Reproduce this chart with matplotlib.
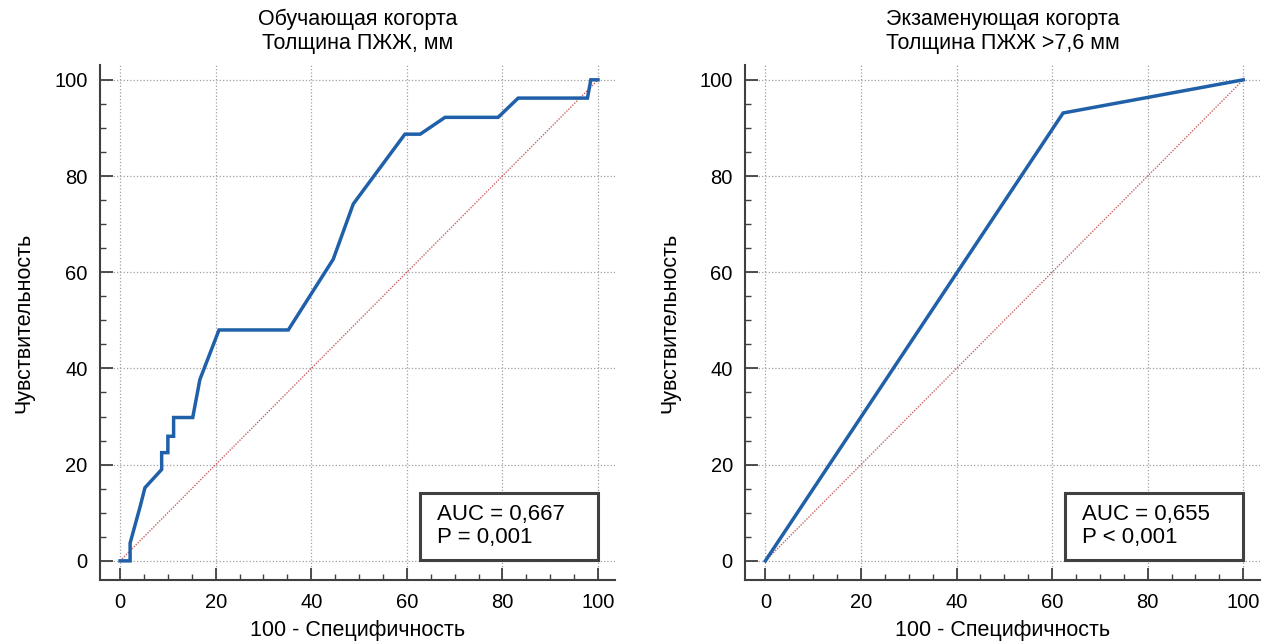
import matplotlib.pyplot as plt
from matplotlib.patches import Rectangle
from matplotlib.ticker import MultipleLocator

plt.rcParams["font.family"] = ["Liberation Sans", "DejaVu Sans"]

# обучающая когорта: 100 - специфичность / чувствительность
x_train = [0, 2.1, 2.1, 4.2, 5.2, 8.7, 8.7, 10.0, 10.0, 11.2, 11.2, 15.2, 16.7,
           20.7, 35.2, 44.6, 48.8, 59.6, 62.8, 68.0, 79.1, 83.3, 97.8, 98.5, 100]
y_train = [0, 0, 3.7, 11.3, 15.2, 19.0, 22.5, 22.5, 25.9, 25.9, 29.8, 29.8, 37.7,
           48.0, 48.0, 62.7, 74.2, 88.7, 88.7, 92.2, 92.2, 96.2, 96.2, 100, 100]

# экзаменующая когорта
x_test = [0, 62.3, 100]
y_test = [0, 93.1, 100]

titles = ["Обучающая когорта\nТолщина ПЖЖ, мм", "Экзаменующая когорта\nТолщина ПЖЖ >7,6 мм"]
stats = ["AUC = 0,667\nP = 0,001", "AUC = 0,655\nP < 0,001"]

fig = plt.figure(figsize=(12.74, 6.41), dpi=100)
ax1 = fig.add_axes([0.0785, 0.095, 0.404, 0.803])
ax2 = fig.add_axes([0.585, 0.095, 0.404, 0.803])

for ax, xs, ys, title, txt in zip([ax1, ax2], [x_train, x_test], [y_train, y_test], titles, stats):
    ax.plot([0, 100], [0, 100], color="#c04848", lw=1.0, ls=(0, (1, 1)), alpha=0.85)
    ax.plot(xs, ys, color="#2060a8", lw=2.5, solid_joinstyle="miter")
    ax.set_xlim(-4.2, 103.5)
    ax.set_ylim(-4.0, 103.0)
    ax.xaxis.set_major_locator(MultipleLocator(20))
    ax.yaxis.set_major_locator(MultipleLocator(20))
    ax.xaxis.set_minor_locator(MultipleLocator(5))
    ax.yaxis.set_minor_locator(MultipleLocator(5))
    ax.tick_params(which="major", direction="in", length=9, width=1.3, color="#404040",
                   labelsize=14.5, pad=9)
    ax.tick_params(which="minor", direction="in", length=4.5, width=1.0, color="#404040")
    ax.grid(True, which="major", ls=":", color="#a0a0a0", lw=0.9)
    for s in ["top", "right"]:
        ax.spines[s].set_visible(False)
    for s in ["left", "bottom"]:
        ax.spines[s].set_color("#404040")
        ax.spines[s].set_linewidth(1.5)
    ax.set_title(title, fontsize=15.5, pad=12, linespacing=1.2)
    ax.set_xlabel("100 - Специфичность", fontsize=15.5, labelpad=6)
    ax.set_ylabel("Чувствительность", fontsize=15.5, labelpad=14)
    ax.add_patch(Rectangle((62.8, 0.2), 37.2, 14.0, fc="white", ec="#404040", lw=2.2, zorder=5))
    ax.text(66.3, 7.2, txt, fontsize=16, va="center", ha="left", linespacing=1.15, zorder=6)

plt.savefig("out.png")
